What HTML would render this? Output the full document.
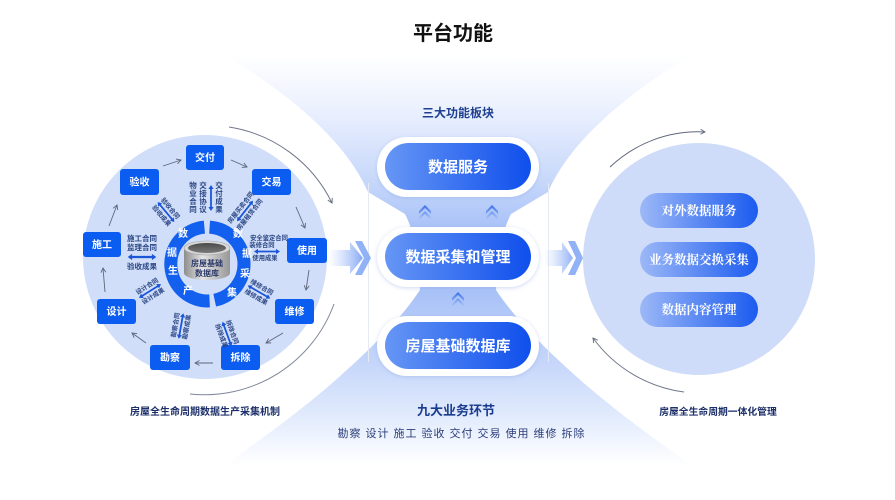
<!DOCTYPE html>
<html><head><meta charset="utf-8">
<style>
html,body{margin:0;padding:0;background:#fff;}
svg{display:block;}
text{font-family:"Liberation Sans","Noto Sans CJK SC",sans-serif;}
.n{font-size:10px;font-weight:bold;fill:#fff;text-anchor:middle;}
.r{font-size:6.3px;fill:#2a4684;text-anchor:middle;font-weight:bold;}
.rc{font-size:10px;font-weight:bold;fill:#fff;text-anchor:middle;}
.pt{font-size:15px;font-weight:bold;fill:#fff;text-anchor:middle;}
.rp{font-size:12.5px;font-weight:bold;fill:#fff;text-anchor:middle;font-family:"Liberation Serif","Noto Serif CJK SC",serif;}
.lb{font-weight:bold;fill:#1c2f6a;text-anchor:middle;}
</style></head><body>
<svg width="895" height="500" viewBox="0 0 895 500" xmlns="http://www.w3.org/2000/svg">
<defs>
  <linearGradient id="bgv" gradientUnits="userSpaceOnUse" x1="0" y1="55" x2="0" y2="465">
    <stop offset="0" stop-color="#ffffff"/>
    <stop offset="0.12" stop-color="#edf2fe"/>
    <stop offset="0.3" stop-color="#c9d9fb"/>
    <stop offset="0.42" stop-color="#a9c2f7"/>
    <stop offset="0.58" stop-color="#a9c2f7"/>
    <stop offset="0.75" stop-color="#c5d6fa"/>
    <stop offset="0.9" stop-color="#e6eefd"/>
    <stop offset="1" stop-color="#ffffff"/>
  </linearGradient>
  <linearGradient id="pg" x1="0" y1="0" x2="1" y2="0">
    <stop offset="0" stop-color="#6696f5"/>
    <stop offset="1" stop-color="#0f4fec"/>
  </linearGradient>
  <linearGradient id="rpg" x1="0" y1="0" x2="1" y2="0">
    <stop offset="0" stop-color="#9cb8f7"/>
    <stop offset="1" stop-color="#1b5bef"/>
  </linearGradient>
  <linearGradient id="cyl" x1="0" y1="0" x2="1" y2="0">
    <stop offset="0" stop-color="#8d8d8d"/>
    <stop offset="0.4" stop-color="#e4e4e4"/>
    <stop offset="1" stop-color="#979797"/>
  </linearGradient>
  <linearGradient id="cylt" x1="0" y1="0" x2="0" y2="1">
    <stop offset="0" stop-color="#4a4a4a"/>
    <stop offset="1" stop-color="#7a7a7a"/>
  </linearGradient>
  <linearGradient id="agL" gradientUnits="userSpaceOnUse" x1="328" y1="0" x2="370" y2="0">
    <stop offset="0" stop-color="#a9c2f8" stop-opacity="0"/>
    <stop offset="1" stop-color="#5f8ff3"/>
  </linearGradient>
  <linearGradient id="agR" gradientUnits="userSpaceOnUse" x1="544" y1="0" x2="582" y2="0">
    <stop offset="0" stop-color="#a9c2f8" stop-opacity="0"/>
    <stop offset="1" stop-color="#5f8ff3"/>
  </linearGradient>
  <linearGradient id="cg" x1="0" y1="0" x2="0" y2="1">
    <stop offset="0" stop-color="#3a6ee9"/>
    <stop offset="1" stop-color="#b4cbf8"/>
  </linearGradient>
  <filter id="sh" x="-20%" y="-40%" width="140%" height="180%">
    <feDropShadow dx="0" dy="1" stdDeviation="2.2" flood-color="#8fa9e0" flood-opacity="0.45"/>
  </filter>
  <marker id="ga" markerWidth="6" markerHeight="6" refX="5" refY="3" orient="auto" markerUnits="userSpaceOnUse">
    <path d="M0.5,0.5 L5,3 L0.5,5.5" fill="none" stroke="#5e677a" stroke-width="0.9"/>
  </marker>
  <path id="da" d="M-13,0 L-9,-2.6 L-9,-0.9 L9,-0.9 L9,-2.6 L13,0 L9,2.6 L9,0.9 L-9,0.9 L-9,2.6 Z" fill="#1c56d8"/>
</defs>

<rect width="895" height="500" fill="#fff"/>

<!-- blue X background -->
<path d="M225,55 C290,95 345,140 368,192 L405,214 C416,235 419,265 420,290 C400,320 370,350 330,385 C295,415 260,440 225,465 L691,465 C656,440 621,415 586,385 C546,350 516,320 496,290 C497,265 500,235 511,214 L548,192 C571,140 626,95 691,55 Z" fill="url(#bgv)"/>

<!-- panel lines -->
<line x1="368.5" y1="183" x2="368.5" y2="362" stroke="#e4e9f2" stroke-width="1"/>
<line x1="548.5" y1="183" x2="548.5" y2="362" stroke="#e4e9f2" stroke-width="1"/>

<!-- Title -->
<text x="453" y="40" font-size="20" font-weight="bold" text-anchor="middle" fill="#111">平台功能</text>

<!-- ===== Left wheel ===== -->
<circle cx="205" cy="257" r="122" fill="#d1def9"/>
<!-- outer arcs -->
<path d="M229,127 A138,138 0 0 1 332,203" fill="none" stroke="#6f7789" stroke-width="1" marker-end="url(#ga)"/>
<path d="M334,304 A138,138 0 0 1 190,394" fill="none" stroke="#7f8799" stroke-width="1"/>

<!-- ring -->
<path d="M209.6,300.9 A37,37 0 0 1 204.4,227.1" fill="none" stroke="#1460ee" stroke-width="13"/>
<path d="M209.6,227.1 A37,37 0 0 1 214.7,300.2" fill="none" stroke="#1460ee" stroke-width="13"/>
<text class="rc" x="183" y="237">数</text>
<text class="rc" x="172" y="256">据</text>
<text class="rc" x="173" y="274">生</text>
<text class="rc" x="188" y="294">产</text>
<text class="rc" x="238" y="237">数</text>
<text class="rc" x="247" y="257">据</text>
<text class="rc" x="245" y="277">采</text>
<text class="rc" x="232" y="296">集</text>

<!-- cylinder -->
<path d="M184,248 L184,273 A23,7 0 0 0 230,273 L230,248 Z" fill="url(#cyl)"/>
<ellipse cx="207" cy="248" rx="23" ry="7" fill="#d8d8d8" stroke="#a5a5a5" stroke-width="0.6"/>
<ellipse cx="207" cy="248" rx="19" ry="5" fill="url(#cylt)"/>
<text x="207" y="266" font-size="8" font-weight="bold" fill="#2c3a6a" text-anchor="middle">房屋基础</text>
<text x="207" y="276" font-size="8" font-weight="bold" fill="#2c3a6a" text-anchor="middle">数据库</text>

<!-- nodes -->
<g>
  <rect x="186" y="145" width="38" height="25" rx="3" fill="#0b5cf1"/><text class="n" x="205" y="161">交付</text>
  <rect x="252" y="169" width="39" height="26" rx="3" fill="#0b5cf1"/><text class="n" x="271.5" y="185.5">交易</text>
  <rect x="287" y="238" width="40" height="25" rx="3" fill="#0b5cf1"/><text class="n" x="307" y="254">使用</text>
  <rect x="275" y="299" width="39" height="25" rx="3" fill="#0b5cf1"/><text class="n" x="294.5" y="315">维修</text>
  <rect x="221" y="345" width="39" height="25" rx="3" fill="#0b5cf1"/><text class="n" x="240.5" y="361">拆除</text>
  <rect x="150" y="345" width="40" height="25" rx="3" fill="#0b5cf1"/><text class="n" x="170" y="361">勘察</text>
  <rect x="97" y="299" width="39" height="25" rx="3" fill="#0b5cf1"/><text class="n" x="116.5" y="315">设计</text>
  <rect x="83" y="232" width="38" height="25" rx="3" fill="#0b5cf1"/><text class="n" x="102" y="248">施工</text>
  <rect x="120" y="169" width="39" height="26" rx="3" fill="#0b5cf1"/><text class="n" x="139.5" y="185.5">验收</text>
</g>

<!-- flow arrows -->
<g stroke="#5e677a" stroke-width="0.9" fill="none">
  <line x1="163" y1="166" x2="181" y2="160" marker-end="url(#ga)"/>
  <line x1="231" y1="160" x2="247" y2="167" marker-end="url(#ga)"/>
  <line x1="296" y1="207" x2="305" y2="228" marker-end="url(#ga)"/>
  <line x1="309" y1="270" x2="306" y2="290" marker-end="url(#ga)"/>
  <line x1="283" y1="333" x2="266" y2="343" marker-end="url(#ga)"/>
  <line x1="213" y1="363" x2="195" y2="363" marker-end="url(#ga)"/>
  <line x1="146" y1="343" x2="132" y2="333" marker-end="url(#ga)"/>
  <line x1="105" y1="292" x2="103" y2="268" marker-end="url(#ga)"/>
  <line x1="109" y1="226" x2="117" y2="205" marker-end="url(#ga)"/>
</g>

<!-- relation labels -->
<!-- 交付 vertical -->
<g font-size="7.5" font-weight="bold" fill="#2a4684" text-anchor="middle">
  <text x="193" y="188">物</text><text x="193" y="196">业</text><text x="193" y="204">合</text><text x="193" y="212">同</text>
  <text x="203" y="188">交</text><text x="203" y="196">接</text><text x="203" y="204">协</text><text x="203" y="212">议</text>
  <text x="219" y="188">交</text><text x="219" y="196">付</text><text x="219" y="204">成</text><text x="219" y="212">果</text>
</g>
<use href="#da" transform="translate(211,198) rotate(90)"/>

<g transform="translate(245,211) rotate(-52)">
  <text class="r" y="-3.5">房屋买卖合同</text><use href="#da"/><text class="r" y="8">房屋租赁合同</text>
</g>

<text class="r" x="269" y="240">安全鉴定合同</text>
<text class="r" x="262" y="247">装修合同</text>
<use href="#da" transform="translate(267,251.5)"/>
<text class="r" x="265" y="260">使用成果</text>

<g font-size="7.5" font-weight="bold" fill="#2a4684" text-anchor="middle">
  <text x="142" y="241">施工合同</text>
  <text x="142" y="250">监理合同</text>
  <text x="142" y="269">验收成果</text>
</g>
<use href="#da" transform="translate(142,257) scale(1.1,1.2)"/>

<g transform="translate(166,212) rotate(50)">
  <text class="r" y="-3.5">验收合同</text><use href="#da"/><text class="r" y="8">验收成果</text>
</g>
<g transform="translate(259,292) rotate(30)">
  <text class="r" y="-3.5">维修合同</text><use href="#da"/><text class="r" y="8">维修成果</text>
</g>
<g transform="translate(227,334) rotate(70)">
  <text class="r" y="-3.5">拆除合同</text><use href="#da"/><text class="r" y="8">拆除成果</text>
</g>
<g transform="translate(181,326) rotate(-80)">
  <text class="r" y="-3.5">勘察合同</text><use href="#da"/><text class="r" y="8">勘察成果</text>
</g>
<g transform="translate(150,291) rotate(-32)">
  <text class="r" y="-3.5">设计合同</text><use href="#da"/><text class="r" y="8">设计成果</text>
</g>

<text class="lb" x="205" y="415" font-size="10">房屋全生命周期数据生产采集机制</text>

<!-- ===== Center column ===== -->
<text x="458" y="117" font-size="12" font-weight="bold" fill="#1f4091" text-anchor="middle">三大功能板块</text>

<!-- pill 1 -->
<rect x="377" y="137" width="162" height="60" rx="30" fill="#fff" filter="url(#sh)"/>
<rect x="385" y="143" width="146" height="47" rx="23.5" fill="url(#pg)"/>
<text class="pt" x="458" y="172">数据服务</text>

<!-- small up chevrons -->
<path transform="translate(425,212)" d="M-6,-1 L0,-7 L6,-1 L6,2 L0,-4 L-6,2Z M-6,5 L0,-1 L6,5 L6,8 L0,2 L-6,8Z" fill="url(#cg)"/>
<path transform="translate(492,212)" d="M-6,-1 L0,-7 L6,-1 L6,2 L0,-4 L-6,2Z M-6,5 L0,-1 L6,5 L6,8 L0,2 L-6,8Z" fill="url(#cg)"/>

<!-- pill 2 -->
<rect x="377" y="227" width="162" height="60" rx="30" fill="#fff" filter="url(#sh)"/>
<rect x="385" y="233" width="146" height="47" rx="23.5" fill="url(#pg)"/>
<text class="pt" x="458" y="262">数据采集和管理</text>

<path transform="translate(458,299)" d="M-6,-1 L0,-7 L6,-1 L6,2 L0,-4 L-6,2Z M-6,5 L0,-1 L6,5 L6,8 L0,2 L-6,8Z" fill="url(#cg)"/>

<!-- pill 3 -->
<rect x="377" y="316" width="162" height="60" rx="30" fill="#fff" filter="url(#sh)"/>
<rect x="385" y="322" width="146" height="47" rx="23.5" fill="url(#pg)"/>
<text class="pt" x="458" y="351">房屋基础数据库</text>

<text x="456" y="415" font-size="13" font-weight="bold" fill="#1a3d8f" text-anchor="middle">九大业务环节</text>
<text x="461" y="437" font-size="11" fill="#2c3e7a" text-anchor="middle" textLength="247" lengthAdjust="spacing">勘察 设计 施工 验收 交付 交易 使用 维修 拆除</text>

<!-- side big arrows -->
<polygon points="328,250 350,250 350,242 363,258 350,274 350,266 328,266" fill="url(#agL)"/>
<polygon points="355,241 362,241 371,258 362,275 355,275 364,258" fill="#7ea4f5" opacity="0.85"/>
<polygon points="544,250 562,250 562,242 573,258 562,274 562,266 544,266" fill="url(#agR)"/>
<polygon points="568,241 575,241 583,258 575,275 568,275 576,258" fill="#7ea4f5" opacity="0.85"/>

<!-- ===== Right circle ===== -->
<circle cx="699" cy="259" r="116" fill="#cfdcf9"/>
<path d="M610,167 A128,128 0 0 1 705,132" fill="none" stroke="#5e677a" stroke-width="1" marker-end="url(#ga)"/>
<path d="M684,392 A134,134 0 0 1 593,338" fill="none" stroke="#6f7789" stroke-width="1" marker-end="url(#ga)"/>

<rect x="640" y="193" width="118" height="35" rx="17.5" fill="url(#rpg)"/>
<text class="rp" x="699" y="215">对外数据服务</text>
<rect x="640" y="242" width="118" height="35" rx="17.5" fill="url(#rpg)"/>
<text class="rp" x="699" y="264">业务数据交换采集</text>
<rect x="640" y="292" width="118" height="35" rx="17.5" fill="url(#rpg)"/>
<text class="rp" x="699" y="314">数据内容管理</text>

<text class="lb" x="718" y="415" font-size="9.8">房屋全生命周期一体化管理</text>
</svg>
</body></html>
